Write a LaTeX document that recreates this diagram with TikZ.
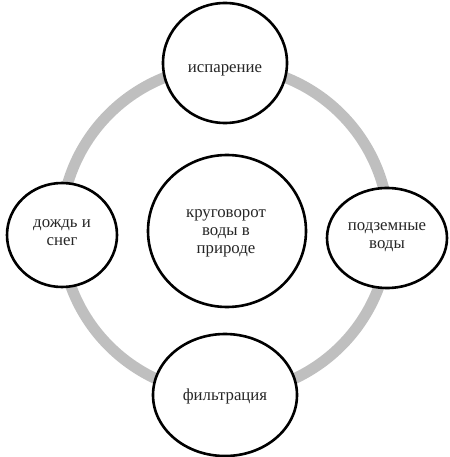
\documentclass[tikz,border=0pt]{standalone}
\usepackage{fontspec}
\setmainfont{Liberation Serif}
\usetikzlibrary{shapes.geometric}
\begin{document}
\begin{tikzpicture}[x=1pt,y=-1pt,
  ring/.style={draw=black!25, line width=11pt, circle, minimum size=328pt, inner sep=0pt},
  bubble/.style={draw=black, fill=white, line width=2.6pt, ellipse, inner sep=0pt},
  lbl/.style={align=center, font=\fontsize{16.8}{18}\selectfont, text=black!85, inner sep=0pt}]
\useasboundingbox (0,0) rectangle (449,457);
\node[ring] (ring) at (225,230) {};
\node[bubble, minimum width=124pt, minimum height=120pt] (top) at (225,63) {};
\node[bubble, minimum width=110pt, minimum height=104pt] (left) at (62,235) {};
\node[bubble, minimum width=120pt, minimum height=100pt] (right) at (387,238) {};
\node[bubble, minimum width=144pt, minimum height=122pt] (bottom) at (225,395) {};
\node[bubble, minimum width=158pt, minimum height=152pt] (center) at (227,231) {};
\node[lbl] (ttop) at (225,70) {испарение};
\node[lbl] (tleft) at (62,233) {дождь и\\снег};
\node[lbl] (tright) at (387,237) {подземные\\воды};
\node[lbl] (tbottom) at (225,396) {фильтрация};
\node[lbl] (tcenter) at (226,233) {круговорот\\воды в\\природе};
\end{tikzpicture}
\end{document}
